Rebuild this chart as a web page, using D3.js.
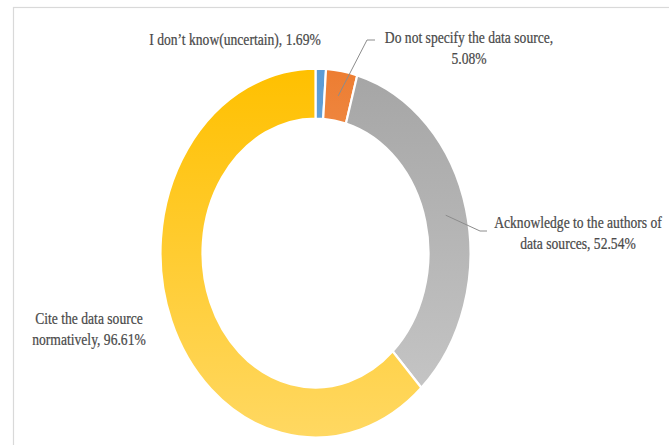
<!DOCTYPE html>
<html>
<head>
<meta charset="utf-8">
<script src="https://cdn.jsdelivr.net/npm/d3@7"></script>
<style>
  html, body { margin: 0; padding: 0; background: #fff; }
  svg { display: block; }
  text { font-family: "Liberation Serif", "Times New Roman", serif; fill: #4a4a4a; }
</style>
</head>
<body>
<svg id="chart" width="669" height="445"></svg>
<script>
// Survey answers: how respondents handle data sources
const categories = [
  "I don\u2019t know(uncertain)",
  "Do not specify the data source",
  "Acknowledge to the authors of data sources",
  "Cite the data source normatively"
];
const values = [1.69, 5.08, 52.54, 96.61];
const labelLines = [
  ["I don\u2019t know(uncertain), 1.69%"],
  ["Do not specify the data source,", "5.08%"],
  ["Acknowledge to the authors of", "data sources, 52.54%"],
  ["Cite the data source", "normatively, 96.61%"]
];
const colorsTop = ["#5b9bd5", "#ed7d31", "#a5a5a5", "#ffc000"];
const colorsBottom = ["#8dbbe6", "#f6b48a", "#c9c9c9", "#ffd862"];

const W = 669, H = 445;
const cx = 315.5, cy = 253;
const R = 155, r = 113, ky = 1.19;   // ring is drawn stretched vertically

const svg = d3.select("#chart");

// frame
svg.append("rect")
  .attr("x", 13.5).attr("y", 7.5)
  .attr("width", 700).attr("height", 500)
  .attr("fill", "none").attr("stroke", "#d9d9d9").attr("stroke-width", 1.2);

const defs = svg.append("defs");
values.forEach((v, i) => {
  const g = defs.append("linearGradient")
    .attr("id", "grad" + i)
    .attr("gradientUnits", "userSpaceOnUse")
    .attr("x1", 0).attr("y1", -R).attr("x2", 0).attr("y2", R);
  g.append("stop").attr("offset", "0%").attr("stop-color", colorsTop[i]);
  g.append("stop").attr("offset", "100%").attr("stop-color", colorsBottom[i]);
});

const pie = d3.pie().sort(null).value(d => d);
const arcs = pie(values);
const arc = d3.arc().innerRadius(r).outerRadius(R);

const ring = svg.append("g")
  .attr("transform", `translate(${cx},${cy}) scale(1,${ky})`);

ring.selectAll("path")
  .data(arcs)
  .join("path")
  .attr("d", arc)
  .attr("fill", (d, i) => `url(#grad${i})`)
  .attr("stroke", "#fff")
  .attr("stroke-width", 2.2)
  .attr("vector-effect", "non-scaling-stroke");

// point on the ring at a slice's middle angle
function ringPoint(d, rad) {
  const a = (d.startAngle + d.endAngle) / 2;
  return [cx + Math.sin(a) * rad, cy - Math.cos(a) * rad * ky];
}

// label placement: [centre x, first baseline]
const labelPos = [
  [235, 45],
  [469, 43],
  [578, 228],
  [89, 324]
];
const lineGap = 21;
const fs = 13.6, sy = 1.2;

labelLines.forEach((lines, i) => {
  const [lx, ly] = labelPos[i];
  lines.forEach((t, j) => {
    svg.append("text")
      .attr("transform", `translate(${lx},${ly + j * lineGap}) scale(1,${sy})`)
      .attr("text-anchor", "middle")
      .attr("font-size", fs)
      .attr("stroke", "#4a4a4a")
      .attr("stroke-width", 0.2)
      .text(t);
  });
});

// leader lines for the two slices whose labels sit away from the ring
const leaders = [
  { i: 1, elbow: [367, 40], end: [375, 40] },
  { i: 2, elbow: [480, 231], end: [487, 231] }
];
leaders.forEach(l => {
  const p0 = ringPoint(arcs[l.i], (R + r) / 2);
  svg.append("path")
    .attr("d", d3.line()([p0, l.elbow, l.end]))
    .attr("fill", "none")
    .attr("stroke", "#8c8c8c")
    .attr("stroke-width", 1);
});
</script>
</body>
</html>
